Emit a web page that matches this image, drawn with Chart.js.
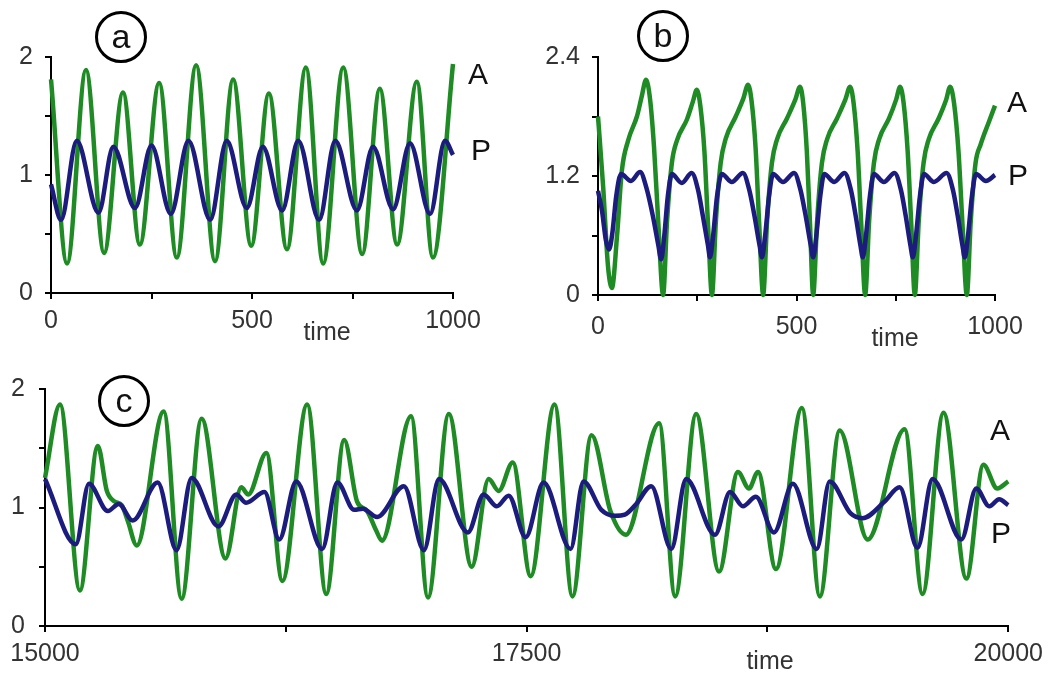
<!DOCTYPE html>
<html>
<head>
<meta charset="utf-8">
<script src="https://cdn.jsdelivr.net/npm/chart.js@4.4.0/dist/chart.umd.min.js"></script>
<style>
  body { margin: 0; background: #fff; font-family: "Liberation Sans", Arial, sans-serif; }
  #wrap { position: relative; width: 1050px; height: 675px; overflow: hidden; }
  canvas { position: absolute; }
  .lbl { position: absolute; color: #111; font-size: 30px; line-height: 1; transform: translate(-50%, -50%); }
  .time { position: absolute; color: #333; font-size: 25px; line-height: 1; transform: translate(-50%, -50%); }
  .circ { position: absolute; box-sizing: border-box; border: 3px solid #000; border-radius: 50%;
          width: 52px; height: 52px; font-size: 34px; line-height: 44px; text-align: center; color: #111; }
</style>
</head>
<body>
<div id="wrap">
  <canvas id="chartA" width="500" height="310" style="left:0;top:30px"></canvas>
  <canvas id="chartB" width="510" height="312" style="left:540px;top:30px"></canvas>
  <canvas id="chartC" width="1050" height="310" style="left:0;top:360px"></canvas>

  <div class="circ" style="left:95px;top:11px">a</div>
  <div class="circ" style="left:637px;top:10px">b</div>
  <div class="circ" style="left:98px;top:375px">c</div>

  <div class="lbl" style="left:478px;top:74px">A</div>
  <div class="lbl" style="left:481px;top:150px">P</div>
  <div class="lbl" style="left:1017px;top:102px">A</div>
  <div class="lbl" style="left:1018px;top:175px">P</div>
  <div class="lbl" style="left:1000px;top:430px">A</div>
  <div class="lbl" style="left:1001px;top:533px">P</div>

  <div class="time" style="left:327px;top:331px">time</div>
  <div class="time" style="left:895px;top:337px">time</div>
  <div class="time" style="left:770px;top:660px">time</div>
</div>
<script>
// panel a
const timeA1 = [0, 40, 87, 132, 179, 221, 269, 313, 361, 408, 453, 498, 542, 587, 634, 677, 727, 774, 818, 861, 910, 950, 1000];
const valA1 = [1.81, 0.25, 1.89, 0.34, 1.70, 0.41, 1.78, 0.30, 1.93, 0.27, 1.81, 0.40, 1.69, 0.37, 1.91, 0.25, 1.91, 0.33, 1.73, 0.41, 1.79, 0.30, 1.94];
const timeP1 = [0, 25, 64, 118, 155, 209, 250, 298, 342, 396, 437, 487, 527, 575, 615, 667, 707, 761, 801, 851, 893, 943, 980, 1000];
const valP1 = [0.92, 0.62, 1.29, 0.68, 1.24, 0.72, 1.25, 0.67, 1.29, 0.62, 1.29, 0.72, 1.24, 0.70, 1.29, 0.62, 1.29, 0.70, 1.24, 0.71, 1.27, 0.67, 1.29, 1.17];

// panel b
const timeA2 = [0, 13, 25, 35, 48, 60, 76, 98, 110, 121, 131, 141, 152, 164,
  174, 186, 199, 224, 239, 249, 258, 268, 277, 287,
  297, 309, 322, 347, 366, 378, 387, 397, 406, 416,
  426, 438, 451, 476, 497, 509, 517, 526, 534, 542,
  552, 564, 577, 602, 623, 635, 644, 654, 663, 673,
  683, 695, 708, 733, 751, 761, 770, 780, 789, 798,
  808, 820, 833, 858, 877, 887, 897, 908, 918, 929,
  939, 951, 964, 985, 1000];
const valA2 = [1.80, 1.09, 0.30, 0.07, 0.60, 1.25, 1.56, 1.80, 2.00, 2.17, 1.98, 1.50, 0.72, 0.00,
  0.75, 1.33, 1.56, 1.77, 1.95, 2.07, 1.90, 1.45, 0.72, 0.00,
  0.75, 1.33, 1.58, 1.80, 1.98, 2.12, 1.95, 1.48, 0.72, 0.00,
  0.75, 1.33, 1.57, 1.78, 1.97, 2.10, 1.93, 1.45, 0.72, 0.00,
  0.75, 1.33, 1.57, 1.78, 1.97, 2.10, 1.93, 1.45, 0.72, 0.00,
  0.75, 1.33, 1.57, 1.78, 1.97, 2.10, 1.93, 1.45, 0.72, 0.00,
  0.75, 1.33, 1.57, 1.78, 1.97, 2.10, 1.93, 1.45, 0.72, 0.00,
  0.75, 1.33, 1.52, 1.75, 1.91];
const timeP2 = [0, 10, 20, 28, 36, 46, 58, 83, 106, 122, 138, 152, 159,
  167, 176, 186, 211, 236, 252, 264, 277, 282,
  290, 300, 312, 337, 365, 381, 394, 407, 413,
  421, 431, 441, 466, 494, 510, 523, 536, 542,
  550, 560, 570, 595, 621, 637, 649, 661, 667,
  675, 685, 695, 720, 747, 763, 775, 787, 793,
  801, 811, 821, 846, 878, 894, 906, 918, 924,
  932, 942, 952, 977, 1000];
const valP2 = [1.05, 0.85, 0.55, 0.46, 0.62, 1.00, 1.22, 1.15, 1.24, 1.08, 0.80, 0.50, 0.36,
  0.60, 1.00, 1.22, 1.13, 1.23, 1.06, 0.80, 0.50, 0.38,
  0.60, 1.00, 1.22, 1.14, 1.23, 1.06, 0.80, 0.50, 0.38,
  0.60, 1.00, 1.22, 1.14, 1.23, 1.06, 0.80, 0.50, 0.38,
  0.60, 1.00, 1.22, 1.14, 1.23, 1.06, 0.80, 0.50, 0.38,
  0.60, 1.00, 1.22, 1.14, 1.23, 1.06, 0.80, 0.50, 0.38,
  0.60, 1.00, 1.22, 1.14, 1.23, 1.06, 0.80, 0.50, 0.38,
  0.60, 1.00, 1.22, 1.15, 1.21];

// panel c
const timeA3 = [15000, 15078, 15181, 15274, 15321, 15362, 15398, 15431, 15476, 15616, 15709, 15813, 15937,
  16019, 16055, 16149, 16232, 16361, 16460, 16553, 16620, 16672, 16718, 16749, 16900, 16988,
  17096, 17215, 17303, 17355, 17428, 17521, 17645, 17738, 17837, 17935, 18015,
  18188, 18271, 18380, 18499, 18597, 18654, 18701, 18794, 18929, 19022,
  19125, 19270, 19462, 19555, 19664, 19783, 19871, 19943, 20000];
const valA3 = [1.25, 1.87, 0.30, 1.52, 1.14, 1.05, 1.02, 0.88, 0.68, 1.81, 0.23, 1.75, 0.57,
  1.17, 1.11, 1.46, 0.38, 1.87, 0.27, 1.57, 1.05, 0.97, 0.81, 0.72, 1.77, 0.24,
  1.79, 0.50, 1.24, 1.14, 1.38, 0.42, 1.87, 0.25, 1.61, 0.97, 0.77,
  1.71, 0.25, 1.79, 0.46, 1.30, 1.16, 1.30, 0.48, 1.84, 0.25,
  1.65, 0.73, 1.66, 0.27, 1.80, 0.40, 1.36, 1.16, 1.22];
const timeP3 = [15000, 15160, 15228, 15326, 15383, 15455, 15585, 15683, 15761, 15900, 15993, 16044,
  16139, 16216, 16304, 16439, 16517, 16605, 16650, 16724, 16863, 16967,
  17045, 17195, 17277, 17345, 17407, 17495, 17588, 17728, 17795, 17888, 17960, 18010, 18069,
  18147, 18251, 18328, 18478, 18556, 18623, 18690, 18784, 18882, 19006,
  19073, 19182, 19244, 19358, 19436, 19529, 19607, 19757, 19834, 19902, 19953, 20000];
const valP3 = [1.24, 0.69, 1.20, 0.97, 1.03, 0.89, 1.21, 0.64, 1.25, 0.84, 1.11, 1.04,
  1.13, 0.73, 1.22, 0.65, 1.21, 0.98, 0.99, 0.92, 1.18, 0.64,
  1.24, 0.79, 1.11, 1.01, 1.10, 0.75, 1.21, 0.65, 1.22, 0.98, 0.93, 0.94, 1.03,
  1.18, 0.65, 1.24, 0.77, 1.13, 1.01, 1.09, 0.79, 1.20, 0.65,
  1.22, 0.95, 0.91, 1.05, 1.17, 0.66, 1.24, 0.73, 1.16, 1.01, 1.07, 1.02];

// tick labels shown on each axis
const xLabels1 = [0, 500, 1000];
const yLabels1 = [0, 1, 2];
const xLabels2 = [0, 500, 1000];
const yLabels2 = [0, 1.2, 2.4];
const xLabels3 = [15000, 17500, 20000];
const yLabels3 = [0, 1, 2];

const green = '#1f8b24';
const navy = '#1c1c7e';

const pts = (t, v) => t.map((x, i) => ({ x: x, y: v[i] }));

function makePanel(id, s) {
  const tickFont = { family: '"Liberation Sans", Arial, sans-serif', size: 25 };
  return new Chart(document.getElementById(id), {
    type: 'line',
    data: {
      datasets: [
        { label: 'P', data: pts(s.tP, s.vP), borderColor: navy, borderWidth: 4.5, pointRadius: 0,
          cubicInterpolationMode: 'monotone', clip: false },
        { label: 'A', data: pts(s.tA, s.vA), borderColor: green, borderWidth: 4.5, pointRadius: 0,
          cubicInterpolationMode: 'monotone', clip: false },
      ],
    },
    options: {
      responsive: false,
      animation: false,
      events: [],
      layout: { padding: s.pad },
      plugins: { legend: { display: false }, tooltip: { enabled: false } },
      scales: {
        x: {
          type: 'linear', min: s.xMin, max: s.xMax,
          ticks: {
            stepSize: s.xStep, font: tickFont, color: '#333', padding: s.xPad, maxRotation: 0,
            callback: (v) => (s.xLabels.includes(v) ? String(v) : ''),
          },
          grid: { drawOnChartArea: false, color: '#000', lineWidth: 2, tickLength: 6 },
          border: { color: '#000', width: 2 },
          afterFit: (sc) => { sc.height = 40; },
        },
        y: {
          min: 0, max: s.yMax,
          ticks: {
            stepSize: s.yStep, font: tickFont, color: '#333', padding: s.yPad,
            callback: (v) => {
              const r = Math.round(v * 10) / 10;
              return s.yLabels.includes(r) ? String(r) : '';
            },
          },
          grid: { drawOnChartArea: false, color: '#000', lineWidth: 2, tickLength: 6 },
          border: { color: '#000', width: 2 },
          afterFit: (sc) => { sc.width = s.yWidth; },
        },
      },
    },
  });
}

makePanel('chartA', {
  tA: timeA1, vA: valA1, tP: timeP1, vP: valP1,
  xMin: 0, xMax: 1000, xStep: 250, yMax: 2, yStep: 0.5,
  xLabels: xLabels1, yLabels: yLabels1, yWidth: 51, yPad: 12, xPad: 7,
  pad: { left: 0, right: 47, top: 22, bottom: 7 },
});

makePanel('chartB', {
  tA: timeA2, vA: valA2, tP: timeP2, vP: valP2,
  xMin: 0, xMax: 1000, xStep: 250, yMax: 2.4, yStep: 0.6,
  xLabels: xLabels2, yLabels: yLabels2, yWidth: 58, yPad: 12, xPad: 11,
  pad: { left: 0, right: 55, top: 22, bottom: 7 },
});

makePanel('chartC', {
  tA: timeA3, vA: valA3, tP: timeP3, vP: valP3,
  xMin: 15000, xMax: 20000, xStep: 1250, yMax: 2, yStep: 0.5,
  xLabels: xLabels3, yLabels: yLabels3, yWidth: 45, yPad: 14, xPad: 7,
  pad: { left: 0, right: 39, top: 22, bottom: 4 },
});
</script>
</body>
</html>
